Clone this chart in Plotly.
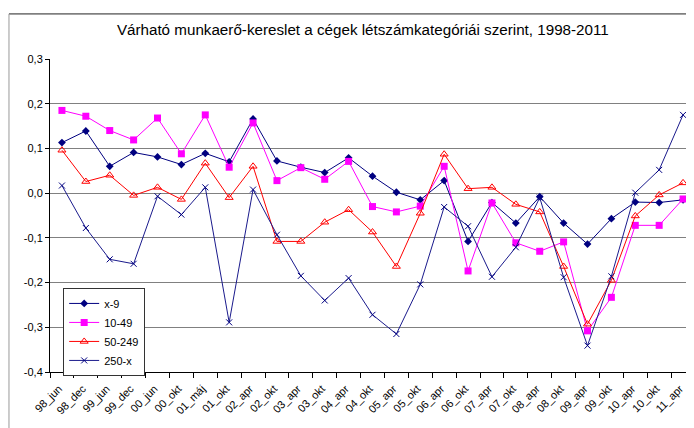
import plotly.graph_objects as go

categories = ["98_jun", "98_dec", "99_jun", "99_dec", "00_jun", "00_okt", "01_máj", "01_okt",
              "02_apr", "02_okt", "03_apr", "03_okt", "04_apr", "04_okt", "05_apr", "05_okt",
              "06_apr", "06_okt", "07_apr", "07_okt", "08_apr", "08_okt", "09_apr", "09_okt",
              "10_apr", "10_okt", "11_apr"]

s_x9 = [0.113, 0.139, 0.060, 0.091, 0.081, 0.064, 0.089, 0.070, 0.166, 0.072, 0.058, 0.046,
        0.079, 0.038, 0.002, -0.015, 0.028, -0.108, -0.021, -0.067, -0.008, -0.067, -0.114,
        -0.057, -0.020, -0.021, -0.015]
s_10_49 = [0.185, 0.172, 0.140, 0.119, 0.168, 0.088, 0.175, 0.058, 0.157, 0.028, 0.057, 0.031,
           0.071, -0.030, -0.042, -0.029, 0.060, -0.174, -0.022, -0.111, -0.130, -0.109, -0.308,
           -0.233, -0.072, -0.072, -0.013]
s_50_249 = [0.096, 0.026, 0.040, -0.005, 0.013, -0.014, 0.067, -0.010, 0.060, -0.108, -0.108,
            -0.065, -0.037, -0.087, -0.164, -0.045, 0.087, 0.010, 0.013, -0.025, -0.042, -0.164,
            -0.293, -0.195, -0.051, -0.004, 0.023]
s_250x = [0.017, -0.078, -0.148, -0.158, -0.007, -0.048, 0.013, -0.289, 0.008, -0.093, -0.185,
          -0.240, -0.190, -0.272, -0.315, -0.204, -0.031, -0.074, -0.187, -0.121, -0.010, -0.188,
          -0.341, -0.186, 0.001, 0.052, 0.175]

y_tickvals = [-0.4, -0.3, -0.2, -0.1, 0.0, 0.1, 0.2, 0.3]
y_ticktext = ["-0,4", "-0,3", "-0,2", "-0,1", "0,0", "0,1", "0,2", "0,3"]

title_text = "Várható munkaerő-kereslet a cégek létszámkategóriái szerint, 1998-2011"

FONT = "Liberation Sans, Arial, sans-serif"

fig = go.Figure()
fig.add_trace(go.Scatter(x=categories, y=s_x9, name="x-9", mode="lines+markers",
                         line=dict(color="#000080", width=1),
                         marker=dict(symbol="diamond", size=6, color="#000080")))
fig.add_trace(go.Scatter(x=categories, y=s_10_49, name="10-49", mode="lines+markers",
                         line=dict(color="#FF00FF", width=1),
                         marker=dict(symbol="square", size=7, color="#FF00FF")))
fig.add_trace(go.Scatter(x=categories, y=s_50_249, name="50-249", mode="lines+markers",
                         line=dict(color="#FF0000", width=1),
                         marker=dict(symbol="triangle-up-open", size=7, color="#FF0000",
                                     line=dict(width=1, color="#FF0000"))))
fig.add_trace(go.Scatter(x=categories, y=s_250x, name="250-x", mode="lines+markers",
                         line=dict(color="#1a1a8c", width=1),
                         marker=dict(symbol="x-thin-open", size=6, color="#000080",
                                     line=dict(width=1, color="#000080"))))

fig.update_layout(
    width=694, height=428,
    margin=dict(l=42, r=7, t=51, b=64, autoexpand=False),
    paper_bgcolor="white", plot_bgcolor="white",
    font=dict(family=FONT, size=11, color="black"),
    title=dict(text=title_text, x=0.485, xref="paper", xanchor="center",
               y=0.949, yref="container", yanchor="middle",
               font=dict(family=FONT, size=15.2, color="black")),
    showlegend=True,
    legend=dict(x=0.084, y=0.128, xanchor="center", yanchor="middle",
                bgcolor="white", bordercolor="#333333", borderwidth=1,
                font=dict(family=FONT, size=11, color="black"),
                tracegroupgap=0, itemwidth=30),
    xaxis=dict(type="category", showgrid=False, showline=True, linecolor="black", linewidth=1,
               ticks="outside", ticklen=5, tickcolor="black", tickson="boundaries",
               tickangle=-45, tickfont=dict(family=FONT, size=11, color="black"),
               ticklabelstandoff=5, ticklabelshift=-3,
               range=[-0.5, 26.5], zeroline=False, automargin=False),
    yaxis=dict(range=[-0.4, 0.3], tickvals=y_tickvals, ticktext=y_ticktext,
               showgrid=True, gridcolor="#808080", gridwidth=1,
               zeroline=False, showline=True, linecolor="black", linewidth=1,
               ticks="outside", ticklen=4, tickcolor="black", automargin=False,
               tickfont=dict(family=FONT, size=11, color="black")),
    shapes=[
        dict(type="line", xref="paper", yref="paper", x0=-0.0636, x1=1.02, y0=1.144, y1=1.144,
             line=dict(color="#222222", width=1)),
        dict(type="line", xref="paper", yref="paper", x0=-0.0636, x1=-0.0636, y0=1.144, y1=-0.3,
             line=dict(color="#999999", width=1)),
    ],
)

fig.write_html("out.html")
